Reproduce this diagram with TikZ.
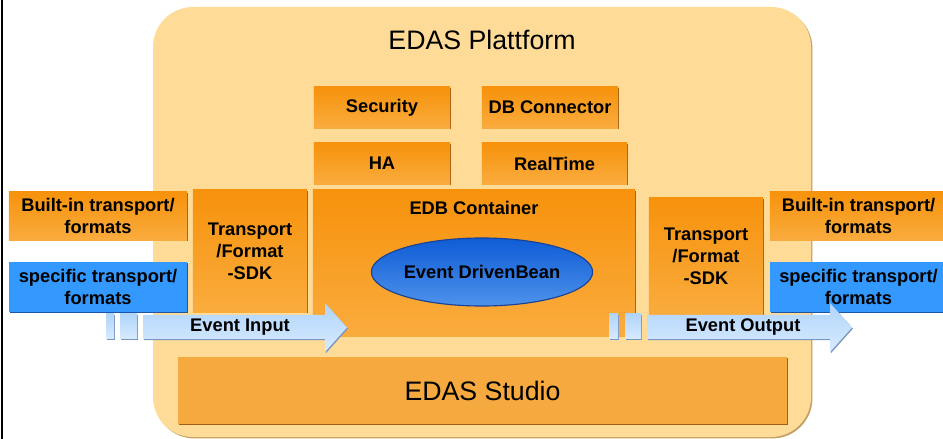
\documentclass[tikz,border=0pt]{standalone}
\usepackage{fontspec}
\setmainfont{Liberation Sans}
\usetikzlibrary{shapes.geometric,shadows}
\definecolor{plattformfill}{RGB}{254,219,151}
\definecolor{plattformedge}{RGB}{196,160,100}
\definecolor{orangetop}{RGB}{247,146,12}
\definecolor{orangebottom}{RGB}{249,172,62}
\definecolor{orangeedge}{RGB}{160,95,20}
\definecolor{studiofill}{RGB}{245,169,63}
\definecolor{specblue}{RGB}{51,153,255}
\definecolor{specedge}{RGB}{30,85,165}
\definecolor{beantop}{RGB}{14,92,214}
\definecolor{beanbottom}{RGB}{78,146,234}
\definecolor{beanedge}{RGB}{25,65,150}
\definecolor{arrowtop}{RGB}{176,212,250}
\definecolor{arrowbottom}{RGB}{216,235,255}
\definecolor{arrowedge}{RGB}{120,150,190}
\tikzset{
  boldtext/.style={font=\bfseries\fontsize{13}{15.6}\selectfont, align=center, inner sep=0pt},
  bigtext/.style={font=\fontsize{19}{23}\selectfont, inner sep=0pt},
  obox/.style={rectangle, boldtext, top color=orangetop, bottom color=orangebottom,
    drop shadow={shadow xshift=0.7pt, shadow yshift=-0.8pt, opacity=1, fill=orangeedge}},
  bbox/.style={rectangle, boldtext, fill=specblue,
    drop shadow={shadow xshift=0.7pt, shadow yshift=-0.8pt, opacity=1, fill=specedge}},
  bean/.style={ellipse, boldtext, draw=beanedge, line width=0.8pt,
    top color=beantop, bottom color=beanbottom},
  arrowfill/.style={top color=arrowtop, bottom color=arrowbottom,
    drop shadow={shadow xshift=0.7pt, shadow yshift=-0.8pt, opacity=1, fill=arrowedge}}
}
\begin{document}
\begin{tikzpicture}[x=0.025cm,y=-0.025cm]
                \useasboundingbox (0,0) rectangle (943,439);
                
                % Drawing frame line at the left
                \draw [line width=1.4pt] (2,0) -- (2,439);%
                
                % Drawing plattform
                \path [fill=plattformfill, rounded corners=1cm,
                  drop shadow={shadow xshift=1pt, shadow yshift=-1pt, opacity=1, fill=plattformedge}]
                  (153,7) rectangle (811,437);%
                \node [bigtext] (plattform) at (482,40) {EDAS Plattform};%
                
                % Drawing services
                \node [obox, minimum width=3.4cm, minimum height=1.025cm] (security) at (382,107.5) {Security};%
                \node [obox, minimum width=3.4cm, minimum height=1.025cm] (dbconnector) at (550,107.5) {DB Connector};%
                \node [obox, minimum width=3.4cm, minimum height=1.025cm] (ha) at (382,163.5) {HA};%
                \node [obox, minimum width=3.625cm, minimum height=1.025cm] (realtime) at (554.5,163.5) {RealTime};%
                
                % Drawing container with bean
                \node [obox, minimum width=8.05cm, minimum height=3.65cm] (edb) at (474,263) {};%
                \node [boldtext] (edbtitle) at (474,208) {EDB Container};%
                \node [bean, minimum width=5.25cm, minimum height=1.7cm] (bean) at (482,272) {Event DrivenBean};%
                
                % Drawing SDK boxes
                \node [obox, minimum width=2.85cm, minimum height=3.05cm] (sdkin) at (250,251) {Transport\\/Format\\-SDK};%
                \node [obox, minimum width=2.85cm, minimum height=2.925cm] (sdkout) at (706,256.5) {Transport\\/Format\\-SDK};%
                
                % Drawing transports left
                \node [obox, minimum width=4.45cm, minimum height=1.2cm] (builtinin) at (98,216) {Built-in transport/\\formats};%
                \node [bbox, minimum width=4.45cm, minimum height=1.25cm] (specificin) at (98,287) {specific transport/\\formats};%
                
                % Drawing transports right
                \node [obox, minimum width=4.425cm, minimum height=1.2cm] (builtinout) at (858.5,216) {Built-in transport/\\formats};%
                \node [bbox, minimum width=4.425cm, minimum height=1.25cm] (specificout) at (858.5,287) {specific transport/\\formats};%
                
                % Drawing studio
                \node [rectangle, bigtext, fill=studiofill, minimum width=15.225cm, minimum height=1.675cm,
                  drop shadow={shadow xshift=0.5pt, shadow yshift=-0.8pt, opacity=1, fill=orangeedge}]
                  (studio) at (482.5,390.5) {EDAS Studio};%
                
                % Drawing arrow Event Input
                \path [arrowfill] (106,314) rectangle (114,339);%
                \path [arrowfill] (120,314) rectangle (137,339);%
                \path [arrowfill] (143,315) -- (325,315) -- (325,303) -- (347,327.5)
                  -- (325,352) -- (325,339) -- (143,339) -- cycle;%
                \node [boldtext] (input) at (240,327) {Event Input};%
                
                % Drawing arrow Event Output
                \path [arrowfill] (609,314) rectangle (618,339);%
                \path [arrowfill] (625,314) rectangle (641,339);%
                \path [arrowfill] (647,315) -- (830,315) -- (830,303) -- (852,327.5)
                  -- (830,352) -- (830,339) -- (647,339) -- cycle;%
                \node [boldtext] (output) at (743,327) {Event Output};%
            \end{tikzpicture}
\end{document}
